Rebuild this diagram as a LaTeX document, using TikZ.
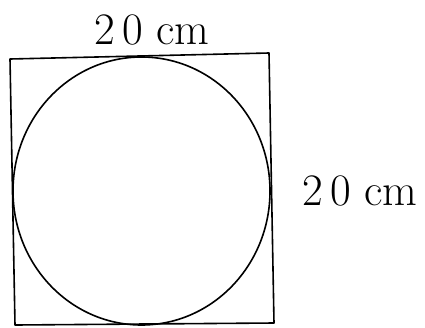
\documentclass[tikz,border=0pt]{standalone}
\usepackage{fontspec}
\usepackage{tikz}
\usetikzlibrary{positioning}
\tikzset{
  sketchline/.style={draw=black,line width=1.6pt,line join=round},
  sizelabel/.style={font=\fontsize{45}{50}\selectfont,inner sep=0pt},
}

\begin{document}
\begin{tikzpicture}[x=1pt,y=-1pt]
    \useasboundingbox (0,0) rectangle (425,327);
    % square and the circle inside it
    \coordinate (tl) at (10,59);
    \coordinate (tr) at (269,53);
    \coordinate (br) at (274,323);
    \coordinate (bl) at (15,325);
    \draw[sketchline] (tl) -- (tr) -- (br) -- (bl) -- cycle;
    \coordinate (mid) at (141.5,191);
    \draw[sketchline] (mid) ellipse [x radius=128.5, y radius=134];
    % side lengths
    \node[sizelabel] (topsize) at (152,30) {2\,0 cm};
    \node[sizelabel] (rightsize) at (360,191) {2\,0 cm};
  \end{tikzpicture}
\end{document}
